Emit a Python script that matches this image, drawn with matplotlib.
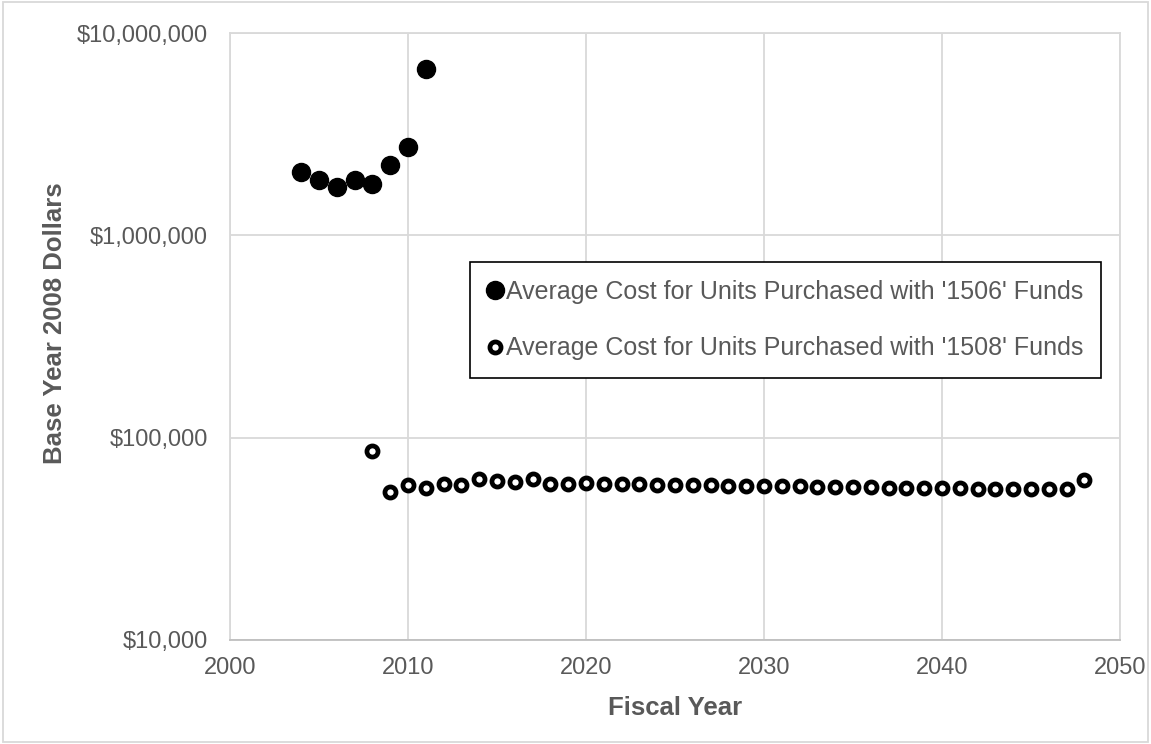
import matplotlib
matplotlib.use('Agg')
import matplotlib.pyplot as plt
from matplotlib.patches import Rectangle
from matplotlib.ticker import FixedLocator, FuncFormatter

plt.rcParams['font.family'] = ['Liberation Sans', 'DejaVu Sans']

# ------------------------------------------------------------
# Data
# ------------------------------------------------------------
years_1506 = [2004, 2005, 2006, 2007, 2008, 2009, 2010, 2011]
cost_1506 = [2060000, 1870000, 1730000, 1880000, 1790000, 2230000, 2720000, 6620000]

years_1508 = list(range(2008, 2049))
cost_1508 = [86000, 54000, 58300, 56100, 59000, 58300, 62400, 61200, 60600, 62200,
             59000, 59000, 59500, 59200, 59000, 58800, 58600, 58500, 58300, 58100,
             58000, 57900, 57700, 57500, 57400, 57200, 57100, 57000, 56800, 56700,
             56500, 56400, 56300, 56200, 56000, 55900, 55800, 55700, 55600, 55500,
             61700]

label_1506 = "Average Cost for Units Purchased with '1506' Funds"
label_1508 = "Average Cost for Units Purchased with '1508' Funds"

x_ticks = [2000, 2010, 2020, 2030, 2040, 2050]
y_ticks = [1e4, 1e5, 1e6, 1e7]

TEXT = '#595959'
GRID = '#d9d9d9'

# ------------------------------------------------------------
# Figure
# ------------------------------------------------------------
fig = plt.figure(figsize=(11.51, 7.44), dpi=100)
ax = fig.add_axes([0.1998, 0.1398, 0.7733, 0.8158])

ax.plot(years_1506, cost_1506, linestyle='none', marker='o', markersize=13,
        color='black', label=label_1506, zorder=3)
ax.plot(years_1508, cost_1508, linestyle='none', marker='o', markersize=8,
        markerfacecolor='white', markeredgecolor='black', markeredgewidth=3.4,
        label=label_1508, zorder=3)

ax.set_yscale('log')
ax.set_xlim(2000, 2050)
ax.set_ylim(1e4, 1e7)
ax.xaxis.set_major_locator(FixedLocator(x_ticks))
ax.yaxis.set_major_locator(FixedLocator(y_ticks))
ax.yaxis.set_minor_locator(FixedLocator([]))
ax.yaxis.set_major_formatter(FuncFormatter(lambda v, p: f'${v:,.0f}'))

ax.grid(True, color=GRID, linewidth=1.3)
ax.set_axisbelow(True)
for s in ax.spines.values():
    s.set_color(GRID)
    s.set_linewidth(1.3)
ax.spines['bottom'].set_color('#bfbfbf')

ax.tick_params(axis='both', length=0, labelsize=17, colors=TEXT)
ax.tick_params(axis='x', pad=12)
ax.tick_params(axis='y', pad=16)

ax.set_xlabel('Fiscal Year', fontsize=18.5, fontweight='bold', color=TEXT)
ax.set_ylabel('Base Year 2008 Dollars', fontsize=18.5, fontweight='bold', color=TEXT)
ax.xaxis.set_label_coords(0.5, -0.092)
ax.yaxis.set_label_coords(-0.183, 0.522)

leg = ax.legend(loc='upper left', bbox_to_anchor=(0.270, 0.623), fontsize=18,
                frameon=True, fancybox=False, edgecolor='black', framealpha=1,
                handlelength=0.5, handletextpad=0.2, labelspacing=1.3,
                borderpad=0.72, borderaxespad=0)
leg.get_frame().set_linewidth(1.2)
for t in leg.get_texts():
    t.set_color(TEXT)

# light border around the whole chart
fig.patches.append(Rectangle((0.003, 0.003), 0.994, 0.994, transform=fig.transFigure,
                             fill=False, edgecolor=GRID, linewidth=1.3))

fig.savefig('out.png', dpi=100)
